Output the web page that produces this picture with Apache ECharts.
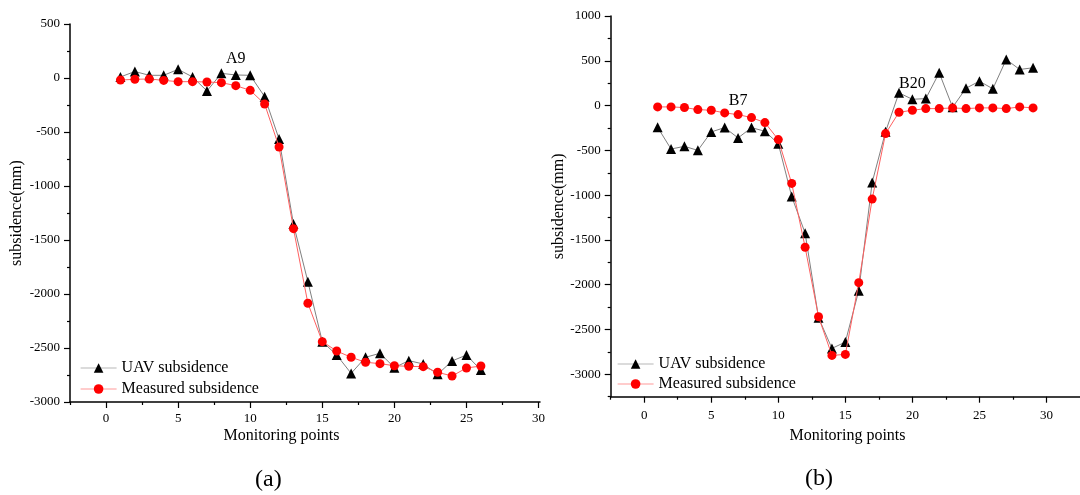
<!DOCTYPE html>
<html><head><meta charset="utf-8">
<script src="https://cdn.jsdelivr.net/npm/echarts@6/dist/echarts.min.js"></script>
<style>html,body{margin:0;padding:0;background:#fff}#c{width:1080px;height:495px}</style>
</head><body><div id="c"></div>
<script>
// ---------- data ----------
const pointsA = [1,2,3,4,5,6,7,8,9,10,11,12,13,14,15,16,17,18,19,20,21,22,23,24,25,26];
const uavA = [10,60,25,25,80,10,-120,43,28,25,-173,-565,-1352,-1886,-2441,-2565,-2735,-2586,-2549,-2682,-2617,-2648,-2744,-2620,-2565,-2704];
const measuredA = [-19,-12,-9,-22,-34,-34,-37,-43,-71,-114,-241,-639,-1395,-2086,-2441,-2528,-2586,-2632,-2645,-2664,-2670,-2673,-2725,-2759,-2685,-2667];

const pointsB = [1,2,3,4,5,6,7,8,9,10,11,12,13,14,15,16,17,18,19,20,21,22,23,24,25,26,27,28,29];
const uavB = [-243,-485,-455,-500,-294,-246,-361,-246,-287,-425,-1015,-1424,-2368,-2711,-2640,-2066,-858,-291,142,70,78,366,-19,194,272,187,515,403,422];
const measuredB = [-15,-15,-22,-45,-52,-82,-101,-134,-190,-380,-869,-1581,-2357,-2789,-2778,-1977,-1044,-313,-75,-52,-34,-34,-26,-34,-26,-26,-34,-15,-26];

const seriesNames = ['UAV subsidence', 'Measured subsidence'];
const annotationsA = [{ series: 0, point: 9, text: 'A9' }];
const annotationsB = [{ series: 1, point: 7, text: 'B7' }, { series: 0, point: 20, text: 'B20' }];

const xMajorTicks = [0, 5, 10, 15, 20, 25, 30];
const xMinorTicks = [-2.5, 2.5, 7.5, 12.5, 17.5, 22.5, 27.5];
const yMajorTicksA = [500, 0, -500, -1000, -1500, -2000, -2500, -3000];
const yMinorTicksA = [250, -250, -750, -1250, -1750, -2250, -2750];
const yMajorTicksB = [1000, 500, 0, -500, -1000, -1500, -2000, -2500, -3000];
const yMinorTicksB = [750, 250, -250, -750, -1250, -1750, -2250, -2750, -3250];

const xTitle = 'Monitoring points';
const yTitle = 'subsidence(mm)';
const panelLabels = ['(a)', '(b)'];

// ---------- styling helpers ----------
const FONT = 'Liberation Serif';
const axisLineStyle = { color: '#000', width: 1.5 };

function majorAxis(dim, grid, min, max, ticks, extra) {
  return Object.assign({
    type: 'value', gridIndex: grid, min: min, max: max,
    position: dim === 'x' ? 'bottom' : 'left',
    axisLine: { show: true, onZero: false, lineStyle: axisLineStyle },
    axisTick: { show: true, length: 6, customValues: ticks, lineStyle: { color: '#000', width: 1.2 } },
    axisLabel: { show: true, customValues: ticks, formatter: v => String(v),
      color: '#000', fontFamily: FONT, fontSize: 13, margin: 10 },
    splitLine: { show: false }
  }, extra || {});
}
function minorAxis(dim, grid, min, max, ticks) {
  return {
    type: 'value', gridIndex: grid, min: min, max: max,
    position: dim === 'x' ? 'bottom' : 'left',
    axisLine: { show: false, onZero: false },
    axisTick: { show: true, length: 3, customValues: ticks, lineStyle: { color: '#000', width: 1.2 } },
    axisLabel: { show: false },
    splitLine: { show: false }
  };
}

function buildData(xs, ys, annotations, seriesIdx) {
  return xs.map((x, i) => {
    const a = annotations.find(o => o.series === seriesIdx && o.point === x);
    if (!a) return [x, ys[i]];
    return { value: [x, ys[i]], label: { show: true, position: 'top', distance: seriesIdx === 0 ? 3 : 1,
      formatter: a.text, color: '#000', fontFamily: FONT, fontSize: 16 } };
  });
}

function makeSeries(grid, xs, uav, meas, ann) {
  return [
    { name: seriesNames[0], type: 'line', xAxisIndex: grid * 2, yAxisIndex: grid * 2,
      data: buildData(xs, uav, ann, 0), symbol: 'triangle', symbolSize: 10,
      itemStyle: { color: '#000' }, lineStyle: { color: '#808080', width: 1 },
      label: { show: false }, z: 2 },
    { name: seriesNames[1], type: 'line', xAxisIndex: grid * 2, yAxisIndex: grid * 2,
      data: buildData(xs, meas, ann, 1), symbol: 'circle', symbolSize: 9,
      itemStyle: { color: '#ff0000' }, lineStyle: { color: '#ff6060', width: 1 },
      label: { show: false }, z: 3 }
  ];
}

const legendCommon = {
  orient: 'vertical', itemWidth: 36, itemHeight: 12, itemGap: 5, padding: 0,
  textStyle: { color: '#000', fontFamily: FONT, fontSize: 16, lineHeight: 16 },
  data: [
    { name: seriesNames[0], lineStyle: { color: '#b8b8b8', width: 1.2 } },
    { name: seriesNames[1], lineStyle: { color: '#ff9a9a', width: 1.2 } }
  ],
  selectedMode: false
};

const option = {
  animation: false,
  backgroundColor: '#fff',
  grid: [
    { left: 70, top: 24, width: 470, height: 378 },
    { left: 610.7, top: 16, width: 473, height: 380.7 }
  ],
  xAxis: [
    majorAxis('x', 0, -2.5, 30.1, xMajorTicks),
    minorAxis('x', 0, -2.5, 30.1, xMinorTicks),
    majorAxis('x', 1, -2.5, 32.5, xMajorTicks, { axisLabel: { show: true, customValues: xMajorTicks, formatter: v => String(v), color: '#000', fontFamily: FONT, fontSize: 13, margin: 12 } }),
    minorAxis('x', 1, -2.5, 32.5, xMinorTicks)
  ],
  yAxis: [
    majorAxis('y', 0, -3000, 500, yMajorTicksA, { name: yTitle, nameLocation: 'middle', nameGap: 45, nameRotate: 90,
      nameTextStyle: { color: '#000', fontFamily: FONT, fontSize: 16 } }),
    minorAxis('y', 0, -3000, 500, yMinorTicksA),
    majorAxis('y', 1, -3250, 1000, yMajorTicksB, { name: yTitle, nameLocation: 'middle', nameGap: 42, nameRotate: 90,
      nameTextStyle: { color: '#000', fontFamily: FONT, fontSize: 16 } }),
    minorAxis('y', 1, -3250, 1000, yMinorTicksB)
  ],
  legend: [
    Object.assign({ left: 80, top: 360 }, legendCommon),
    Object.assign({ left: 617, top: 356 }, legendCommon, { itemGap: 4 })
  ],
  graphic: [
    { type: 'text', left: 281.5 - 58, top: 428, style: { text: xTitle, fill: '#000', font: '16px "Liberation Serif"' } },
    { type: 'text', left: 847.5 - 58, top: 428, style: { text: xTitle, fill: '#000', font: '16px "Liberation Serif"' } },
    { type: 'text', left: 255, top: 468, style: { text: panelLabels[0], fill: '#000', font: '24px "Liberation Serif"' } },
    { type: 'text', left: 805, top: 467, style: { text: panelLabels[1], fill: '#000', font: '24px "Liberation Serif"' } }
  ],
  series: [].concat(
    makeSeries(0, pointsA, uavA, measuredA, annotationsA),
    makeSeries(1, pointsB, uavB, measuredB, annotationsB)
  )
};

const chart = echarts.init(document.getElementById('c'), null, { renderer: 'canvas' });
chart.setOption(option);
</script>
</body></html>
